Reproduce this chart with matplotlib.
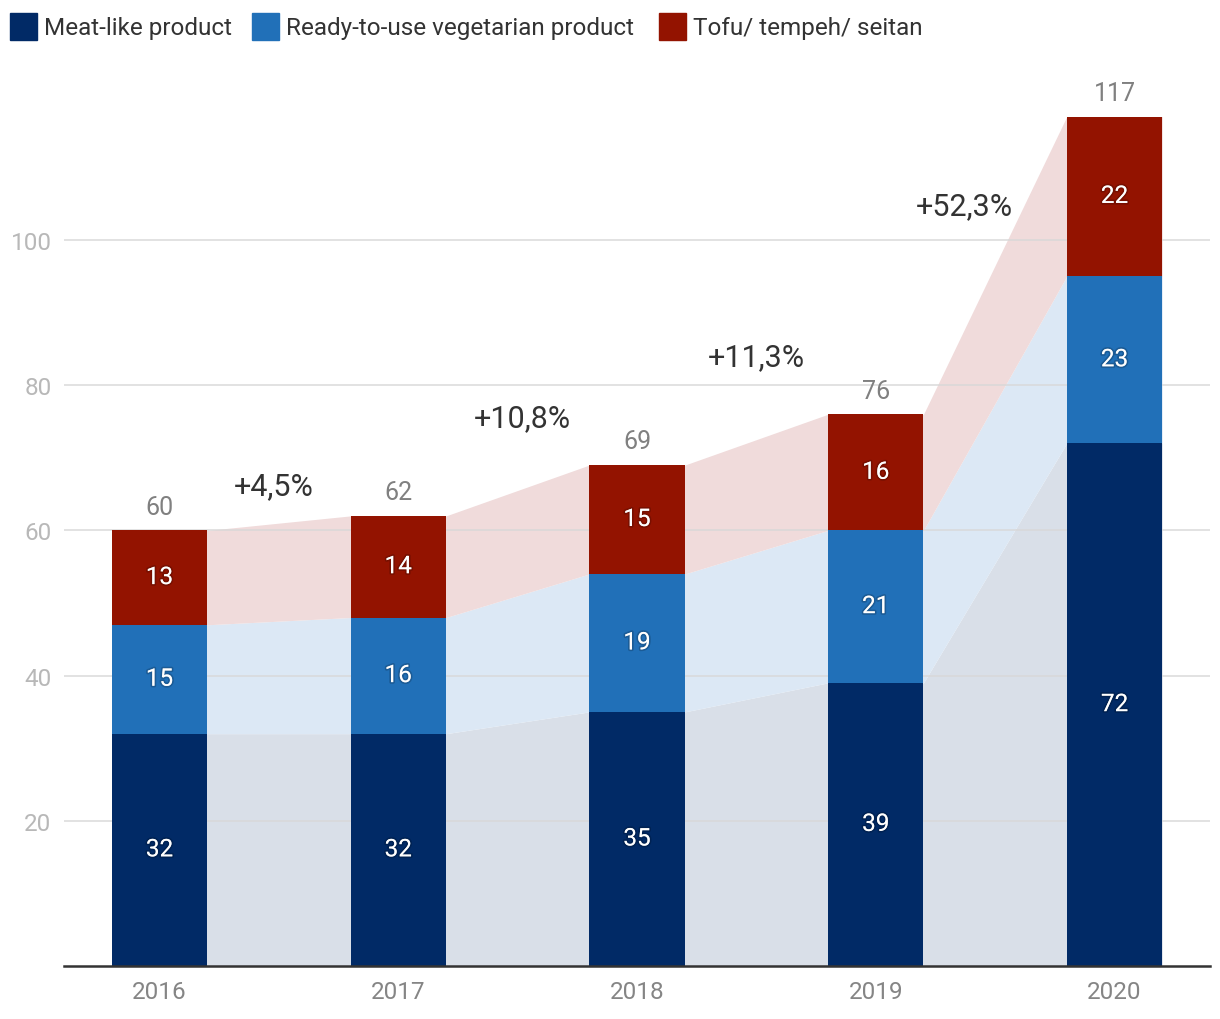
import numpy as np
import matplotlib.pyplot as plt
import matplotlib.patheffects as pe
from matplotlib.patches import Rectangle

plt.rcParams['font.family'] = ['Roboto', 'DejaVu Sans']

years = ["2016", "2017", "2018", "2019", "2020"]
meat = [32, 32, 35, 39, 72]
ready = [15, 16, 19, 21, 23]
tofu = [13, 14, 15, 16, 22]
totals = [60, 62, 69, 76, 117]
growth = ["+4,5%", "+10,8%", "+11,3%", "+52,3%"]
growth_pos = [(0.48, 66.1), (1.52, 75.6), (2.50, 83.9), (3.37, 104.7)]
names = ["Meat-like product", "Ready-to-use vegetarian product", "Tofu/ tempeh/ seitan"]

c_bar = ["#012a66", "#2170b8", "#931300"]
c_fill = ["#d9dfe8", "#dce8f5", "#f0dbdb"]

fig = plt.figure(figsize=(12.2, 10.2), dpi=100)
ax = fig.add_axes([64 / 1220, 53 / 1020, 1146 / 1220, 907.5 / 1020])

x = np.arange(len(years))
w = 0.4
b1 = np.array(meat)
b2 = b1 + np.array(ready)
b3 = b2 + np.array(tofu)

# shaded connectors behind the bars
xe = np.repeat(x, 2) + np.tile([-w / 2, w / 2], len(x))
ax.fill_between(xe, 0, np.repeat(b1, 2), color=c_fill[0], lw=0, zorder=0)
ax.fill_between(xe, np.repeat(b1, 2), np.repeat(b2, 2), color=c_fill[1], lw=0, zorder=0)
ax.fill_between(xe, np.repeat(b2, 2), np.repeat(b3, 2), color=c_fill[2], lw=0, zorder=0)

for yv in [20, 40, 60, 80, 100]:
    ax.axhline(yv, color="#d8d8d8", lw=1.3, alpha=0.8, zorder=1)

ax.bar(x, meat, w, color=c_bar[0], zorder=2)
ax.bar(x, ready, w, bottom=b1, color=c_bar[1], zorder=2)
ax.bar(x, tofu, w, bottom=b2, color=c_bar[2], zorder=2)

shadow = [pe.withStroke(linewidth=2.5, foreground=(0, 0, 0, 0.18))]
for i in range(len(x)):
    for v, b in [(meat[i], 0), (ready[i], b1[i]), (tofu[i], b2[i])]:
        ax.text(x[i], b + v / 2, str(v), ha="center", va="center", color="white",
                fontsize=17.5, zorder=3, path_effects=shadow)
    ax.annotate(str(totals[i]), (x[i], b3[i]), xytext=(0, 17), textcoords="offset points",
                ha="center", va="center", color="#808080", fontsize=18)

for g, (gx, gy) in zip(growth, growth_pos):
    ax.text(gx, gy, g, ha="center", va="center", color="#333333", fontsize=22)

ax.set_xlim(-0.4, 4.4)
ax.set_ylim(0, 125)
ax.set_xticks(x)
ax.set_xticklabels(years)
ax.set_yticks([20, 40, 60, 80, 100])
ax.tick_params(axis="x", length=0, pad=10, labelsize=17.5, labelcolor="#858585")
ax.tick_params(axis="y", length=0, pad=9, labelsize=17.5, labelcolor="#b8b8b8")
for s in ["top", "right", "left"]:
    ax.spines[s].set_visible(False)
ax.spines["bottom"].set_color("#333333")
ax.spines["bottom"].set_linewidth(1.8)
ax.spines["bottom"].set_zorder(4)

# legend
sq_x = [10, 252, 659]
for sx, col, name in zip(sq_x, c_bar, names):
    fig.patches.append(Rectangle((sx / 1220, 1 - 41 / 1020), 27 / 1220, 27 / 1020,
                                 transform=fig.transFigure, color=col))
    fig.text((sx + 34) / 1220, 1 - 28 / 1020, name, ha="left", va="center",
             fontsize=17.5, color="#333333")

fig.savefig("out.png", dpi=100)
